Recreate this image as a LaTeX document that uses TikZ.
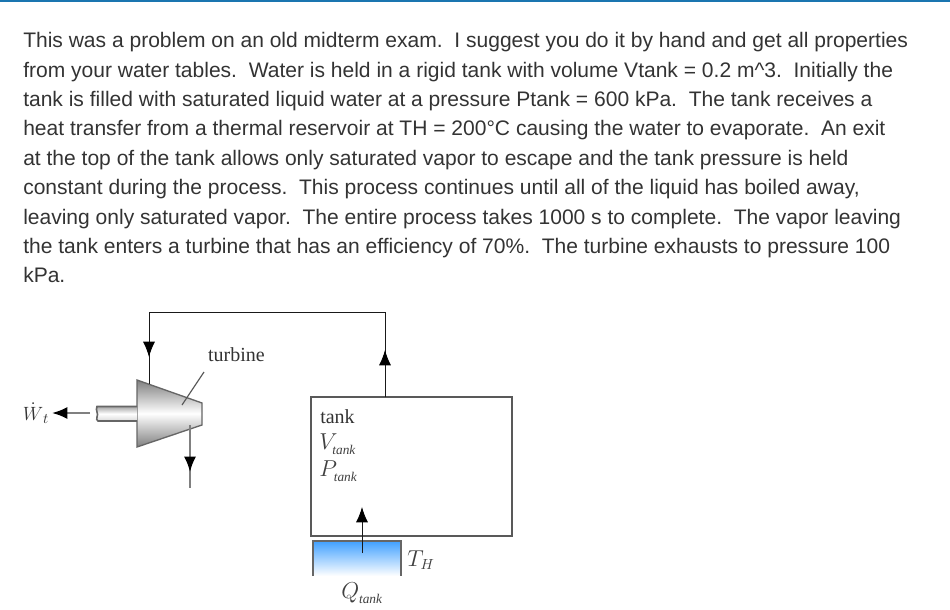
\documentclass[tikz,border=0pt]{standalone}
\usepackage{amssymb, mathtools, amsmath}
\usepackage{fontspec}
\setmainfont{Liberation Sans}
\newfontfamily\figfont{Liberation Serif}
\usetikzlibrary{arrows.meta}
\definecolor{bodytext}{RGB}{51,51,51}
\definecolor{toprule}{RGB}{26,117,176}
\definecolor{hotblue}{RGB}{64,160,255}
\tikzset{
  bodyline/.style={anchor=base west,inner sep=0pt,text=bodytext,font=\fontsize{15.77}{18}\selectfont},
  figlabel/.style={inner sep=0.75pt,text=black!80,font=\figfont\fontsize{15}{18}\selectfont},
  symlabel/.style={inner sep=0.75pt,text=black!75,font=\figfont\fontsize{16}{20}\selectfont},
  pipe/.style={line width=0.65pt,draw=black!90},
  grayline/.style={line width=1.5pt,draw=black!50},
  flowtip/.style={-{Latex[length=11.5pt,width=9pt,black]}}
}
\newcommand{\tanksub}[1]{\ensuremath{#1_{\raisebox{-1.5pt}{\fontsize{10}{10}\figfont\itshape tank}}}}
\begin{document}
\begin{tikzpicture}[x=0.75pt,y=0.75pt,yscale=-1,xscale=1]
\useasboundingbox (0,0) rectangle (950,610);

%Shape: Rectangle [id:top rule]
\fill [toprule] (0,0) rectangle (950,2);

% Text Node
\node (line1) [bodyline] at (23,48) {This was a problem on an old midterm exam.\ \ I suggest you do it by hand and get all properties};
\node (line2) [bodyline] at (23,77.3) {from your water tables.\ \ Water is held in a rigid tank with volume Vtank = 0.2 m\textasciicircum 3.\ \ Initially the};
\node (line3) [bodyline] at (23,106.6) {tank is filled with saturated liquid water at a pressure Ptank = 600 kPa.\ \ The tank receives a};
\node (line4) [bodyline] at (23,136) {heat transfer from a thermal reservoir at TH = 200°C causing the water to evaporate.\ \ An exit};
\node (line5) [bodyline] at (23,165.3) {at the top of the tank allows only saturated vapor to escape and the tank pressure is held};
\node (line6) [bodyline] at (23,194.6) {constant during the process.\ \ This process continues until all of the liquid has boiled away,};
\node (line7) [bodyline] at (23,224) {leaving only saturated vapor.\ \ The entire process takes 1000 s to complete.\ \ The vapor leaving};
\node (line8) [bodyline] at (23,253.3) {the tank enters a turbine that has an efficiency of 70\%.\ \ The turbine exhausts to pressure 100};
\node (line9) [bodyline] at (23,282.6) {kPa.};

%Shape: Turbine body
\draw [draw=black!60,line width=1pt,top color=black!50,bottom color=black!50,middle color=white] (137,380) -- (202,403) -- (202,425) -- (137,447) -- cycle ;
%Shape: Shaft
\draw [draw=black!60,line width=1.2pt,top color=black!35,bottom color=black!15,middle color=white] (137,406.5) -- (97,406.5) .. controls (95,410) and (99,414) .. (97,417) .. controls (96,419) and (97,420) .. (98,421) -- (137,421) ;

%Shape: Tank
\draw [draw=black!65,line width=1.1pt] (311,397) rectangle (512,536) ;
\coordinate (tanktop) at (385,397);
\coordinate (corner2) at (385,312);
\coordinate (corner1) at (149,312);
\coordinate (inlet) at (149,384);
\coordinate (inlettip) at (149,357);
\coordinate (exhaust) at (190,425);
\coordinate (exhausttip) at (190,472);
\coordinate (exhaustend) at (190,488);
\coordinate (tanktip) at (385,350);
\coordinate (shaftend) at (90,413);
\coordinate (worktip) at (52,413);
\coordinate (leaderfrom) at (204,372);
\coordinate (leaderto) at (182,405);
\coordinate (heatfrom) at (362,553);
\coordinate (heattip) at (362,507);

%Shape: Reservoir
\fill [top color=hotblue,bottom color=white] (313,541) rectangle (401,576) ;
\coordinate (reslowleft) at (313,576);
\coordinate (resupleft) at (313,541);
\coordinate (resupright) at (401,541);
\coordinate (reslowright) at (401,576);
\draw [draw=black!60,line width=1.1pt] (reslowleft) -- (resupleft) -- (resupright) -- (reslowright) ;

%Straight Lines
\draw [pipe] (inlet) -- (corner1) -- (corner2) -- (tanktop) ;
\draw [pipe,flowtip] (corner1) -- (inlettip) ;
\draw [pipe,flowtip] (tanktop) -- (tanktip) ;
\draw [grayline] (exhaust) -- (exhaustend) ;
\draw [grayline,flowtip] (exhaust) -- (exhausttip) ;
\draw [grayline,flowtip] (shaftend) -- (worktip) ;
\draw [draw=black!65,line width=0.9pt] (leaderfrom) -- (leaderto) ;
\draw [pipe,flowtip] (heatfrom) -- (heattip) ;

% Text Node
\node (turbinelabel) [figlabel,anchor=center] at (236.5,355) {turbine};
\node (worklabel) [figlabel,anchor=center] at (36,413) {$\dot{W}_{\,t}$};
\node (tanklabel) [figlabel,anchor=west] at (319,417) {tank};
\node (volumelabel) [symlabel,anchor=west] at (318,444) {\tanksub{V}};
\node (pressurelabel) [symlabel,anchor=west] at (318,471) {\tanksub{P}};
\node (hotlabel) [symlabel,anchor=center] at (421,560) {$T_{H}$};
\node (heatlabel) [symlabel,anchor=center] at (362,593) {\tanksub{Q}};
\end{tikzpicture}
\end{document}
